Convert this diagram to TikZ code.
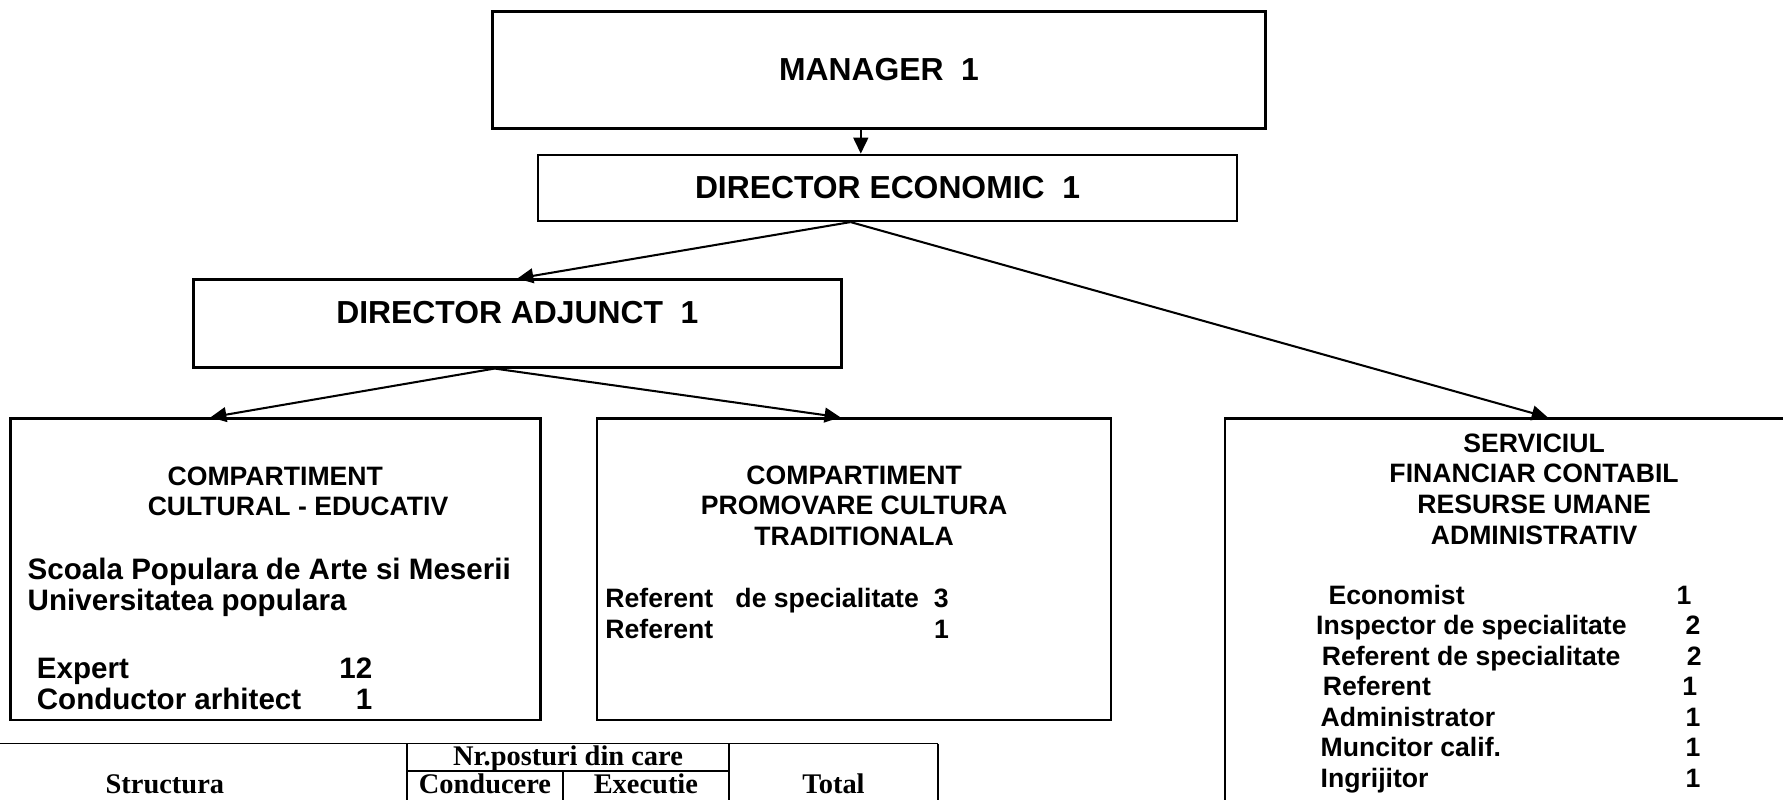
\documentclass[tikz,border=0pt]{standalone}
\usepackage{fontspec}
\setmainfont{Liberation Sans}
\newfontfamily\tabfont{Liberation Serif}
\usetikzlibrary{arrows.meta,positioning}
% one line of staff: name, then the number of posts
\newcommand{\postrow}[3][150pt]{\makebox[#1][l]{#2}\makebox[7pt][r]{#3}}
\tikzset{%
  >={Triangle[width=6.5pt,length=7pt]},
  % Specifications for style of boxes:
            base/.style = {rectangle, draw=black, line width=1.1pt, inner sep=0pt},
         headbox/.style = {base, font=\bfseries\fontsize{14}{17}\selectfont},
         unitbox/.style = {base, anchor=north west},
  % Texts inside the boxes
           title/.style = {anchor=north, inner sep=0pt, align=center,
                           font=\bfseries\fontsize{11.7}{13.5}\selectfont},
           staff/.style = {inner sep=0pt, align=left,
                           font=\bfseries\fontsize{11.7}{13.4}\selectfont},
        bigstaff/.style = {staff, font=\bfseries\fontsize{13}{13.7}\selectfont},
  % Table at the bottom
            cell/.style = {inner sep=0pt, anchor=base,
                           font=\tabfont\bfseries\fontsize{12.5}{15}\selectfont},
}

\begin{document}
\begin{tikzpicture}[x=0.5pt, y=-0.5pt]
  \path[use as bounding box, fill=white] (0,0) rectangle (1568,703);
  \clip (0,0) rectangle (1568,703);
  % Specification of boxes (position, etc.)
  \node (manager)  [headbox, minimum width=340pt, minimum height=51.5pt] at (773,61.5) {MANAGER\ \ 1};
  \node (economic) [headbox, minimum width=307.5pt, minimum height=29pt,
                    below=10.5pt of manager, xshift=3.75pt] {DIRECTOR ECONOMIC\ \ 1};
  \node (adjunct)  [headbox, minimum width=285pt, minimum height=38.5pt,
                    text height=10pt, text depth=10pt] at (455,284.5) {DIRECTOR ADJUNCT\ \ 1};
  \node (cultural)  [unitbox, minimum width=233pt, minimum height=132.5pt] at (8,367) {};
  \node (promovare) [unitbox, minimum width=226pt, minimum height=132.5pt,
                     right=23.9pt of cultural] {};
  \node (serviciu)  [unitbox, minimum width=272pt, minimum height=200pt] at (1076,367) {};

  % Texts of the three compartments
  \node (cultitle) [title, below=21.5pt of cultural.north]
        {COMPARTIMENT\\\hspace*{20pt}CULTURAL - EDUCATIV};
  \node (scoala) [bigstaff, below right=61.5pt and 8pt of cultural.north west]
        {Scoala Populara de Arte si Meserii\\Universitatea populara};
  \node (expert) [bigstaff, below right=105.5pt and 12pt of cultural.north west]
        {\postrow[140.5pt]{Expert}{12}\\\postrow[140.5pt]{Conductor arhitect}{1}};

  \node (promtitle) [title, below=21pt of promovare.north]
        {COMPARTIMENT\\PROMOVARE CULTURA\\TRADITIONALA};
  \node (referent) [staff, below right=75pt and 4pt of promovare.north west]
        {\postrow[144pt]{Referent\ \ \ de specialitate}{3}\\\postrow[144pt]{Referent}{1}};

  \node (servtitle) [title, below=7pt of serviciu.north]
        {SERVICIUL\\FINANCIAR CONTABIL\\RESURSE UMANE\\ADMINISTRATIV};
  \node (posturi) [staff, below right=73.5pt and 42.5pt of serviciu.north west]
        {\postrow[156pt]{\hspace*{3.5pt}Economist}{1}\\
         \postrow[160pt]{\hspace*{-2pt}Inspector de specialitate}{2}\\
         \postrow[160.5pt]{\hspace*{0.5pt}Referent de specialitate}{2}\\
         \postrow[158.5pt]{\hspace*{1pt}Referent}{1}\\
         \postrow[160pt]{Administrator}{1}\\
         \postrow[160pt]{Muncitor calif.}{1}\\
         \postrow[160pt]{Ingrijitor}{1}};

  % Specification of lines between boxes
  \draw[->, line width=0.9pt] ([xshift=-8pt]manager.south) -- ([xshift=-11.75pt]economic.north);
  \draw[->, line width=0.9pt] ([xshift=-16.25pt]economic.south) -- (adjunct.north);
  \draw[->, line width=0.9pt] ([xshift=-16.25pt]economic.south) -- ([xshift=6pt]serviciu.north);
  \draw[->, line width=0.9pt] ([xshift=-10pt]adjunct.south) -- ([xshift=-28.5pt]cultural.north);
  \draw[->, line width=0.9pt] ([xshift=-10pt]adjunct.south) -- ([xshift=-6pt]promovare.north);

  % Table of posts, cut by the page
  \draw[line width=0.7pt] (-5,654) -- (825,654)
        (358,654) -- (358,720) (641,654) -- (641,720) (825,654) -- (825,720)
        (358,678) -- (641,678) (495,678) -- (495,720);
  \node (structura) [cell] at (145,698)   {Structura};
  \node (nrposturi) [cell] at (499.5,673) {Nr.posturi din care};
  \node (conducere) [cell] at (426.5,698) {Conducere};
  \node (executie)  [cell] at (568,698)   {Executie};
  \node (total)     [cell] at (733,698)   {Total};
\end{tikzpicture}
\end{document}
